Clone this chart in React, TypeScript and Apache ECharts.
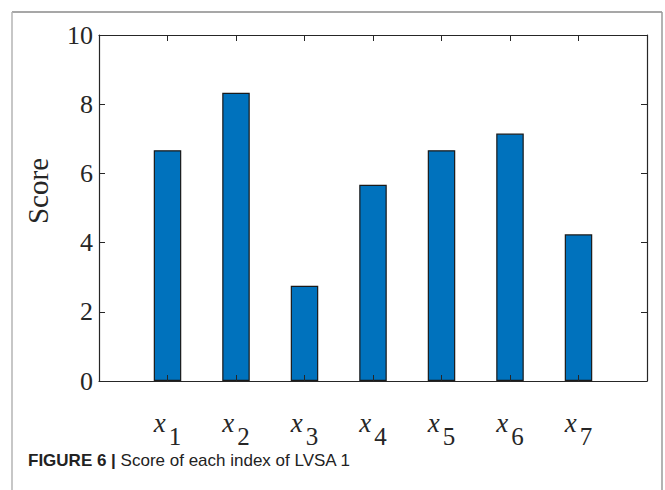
import React, { useEffect, useRef } from "react";
import * as echarts from "echarts";

const categories = ["1", "2", "3", "4", "5", "6", "7"];
const scores = [6.67, 8.33, 2.75, 5.67, 6.67, 7.15, 4.24];
const yTicks = [0, 2, 4, 6, 8, 10];
const yLabel = "Score";
const captionBold = "FIGURE 6 |";
const captionText = " Score of each index of LVSA 1";

export default function App() {
  const ref = useRef<HTMLDivElement>(null);
  useEffect(() => {
    if (!ref.current) return;
    const chart = echarts.init(ref.current, undefined, { renderer: "svg" });
    const serif = "Liberation Serif";
    const axisColor = "#262626";
    const data = categories.map((c, i) => [Number(c), scores[i]]);
    chart.setOption({
      animation: false,
      grid: { left: 99, right: 18, top: 35, bottom: 109, containLabel: false },
      xAxis: [
        {
          type: "value",
          min: 0,
          max: categories.length + 1,
          interval: 1,
          position: "bottom",
          z: 5,
          splitLine: { show: false },
          axisLine: { lineStyle: { color: axisColor, width: 1.2 } },
          axisTick: { inside: true, length: 6, lineStyle: { color: axisColor } },
          axisLabel: {
            margin: 28,
            color: "#262626",
            formatter: (v: number) =>
              categories.includes(String(v)) ? `{x|x}{s|${v}}` : "",
            rich: {
              x: { fontFamily: serif, fontStyle: "italic", fontSize: 27, lineHeight: 20, verticalAlign: "top", color: "#262626" },
              s: { fontFamily: serif, fontSize: 25, lineHeight: 20, verticalAlign: "top", padding: [15, 0, 0, 3], color: "#262626" },
            },
          },
        },
        {
          type: "value",
          min: 0,
          max: categories.length + 1,
          interval: 1,
          position: "top",
          z: 5,
          splitLine: { show: false },
          axisLine: { onZero: false, lineStyle: { color: axisColor, width: 1.2 } },
          axisTick: { inside: true, length: 6, lineStyle: { color: axisColor } },
          axisLabel: { show: false },
        },
      ],
      yAxis: [
        {
          type: "value",
          min: yTicks[0],
          max: yTicks[yTicks.length - 1],
          interval: 2,
          position: "left",
          z: 5,
          splitLine: { show: false },
          axisLine: { show: true, lineStyle: { color: axisColor, width: 1.2 } },
          axisTick: { show: true, inside: true, length: 6, lineStyle: { color: axisColor } },
          axisLabel: { margin: 6, fontFamily: serif, fontSize: 26, color: "#262626" },
        },
        {
          type: "value",
          min: yTicks[0],
          max: yTicks[yTicks.length - 1],
          interval: 2,
          position: "right",
          z: 5,
          splitLine: { show: false },
          axisLine: { show: true, onZero: false, lineStyle: { color: axisColor, width: 1.2 } },
          axisTick: { show: true, inside: true, length: 6, lineStyle: { color: axisColor } },
          axisLabel: { show: false },
        },
      ],
      series: [
        {
          type: "bar",
          xAxisIndex: 0,
          yAxisIndex: 0,
          data,
          barWidth: 27.5,
          itemStyle: { color: "#0072BD", borderColor: "#1a1a1a", borderWidth: 1.2 },
          z: 1,
        },
      ],
      graphic: [
        { type: "line", shape: { x1: 12, y1: 12, x2: 662, y2: 12 }, style: { stroke: "#8a8a8a", lineWidth: 1.5 } },
        { type: "line", shape: { x1: 12, y1: 12, x2: 12, y2: 490 }, style: { stroke: "#b5b5b5", lineWidth: 1.5 } },
        { type: "line", shape: { x1: 662, y1: 12, x2: 662, y2: 490 }, style: { stroke: "#9a9a9a", lineWidth: 1.5 } },
        {
          type: "text",
          x: 38,
          y: 191,
          rotation: Math.PI / 2,
          style: {
            text: yLabel,
            fontFamily: serif,
            fontSize: 29,
            fill: "#262626",
            align: "center",
            verticalAlign: "middle",
          },
        },
        {
          type: "text",
          left: 28,
          top: 452,
          style: {
            text: `{b|${captionBold}}{n|${captionText}}`,
            rich: {
              b: { fontFamily: "Liberation Sans", fontWeight: "bold", fontSize: 17, fill: "#222" },
              n: { fontFamily: "Liberation Sans", fontSize: 17, fill: "#222" },
            },
          },
        },
      ],
    });
    return () => chart.dispose();
  }, []);
  return (
    <div
      ref={ref}
      style={{ position: "fixed", left: 0, top: 0, width: 665, height: 490, background: "#fff" }}
    />
  );
}
